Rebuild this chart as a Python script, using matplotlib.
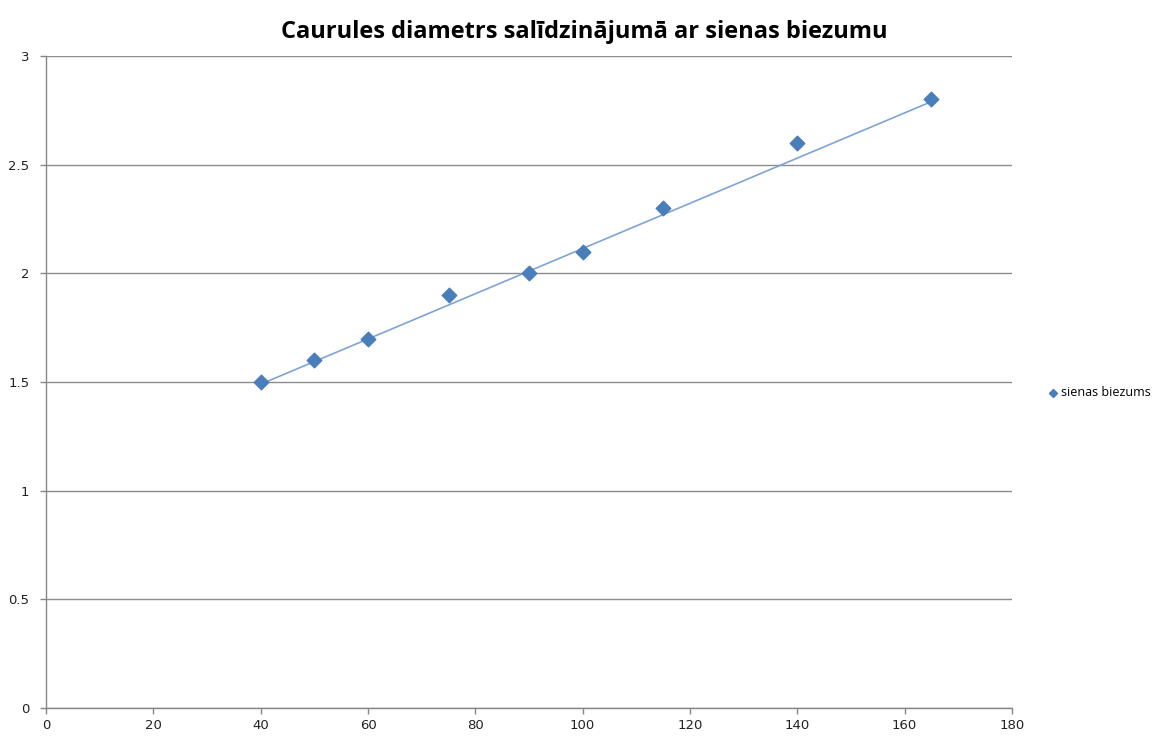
import numpy as np
import matplotlib
matplotlib.use("Agg")
import matplotlib.pyplot as plt

# --------------------- Data ------------------------
diametrs = [40, 50, 60, 75, 90, 100, 115, 140, 165]
biezums = [1.5, 1.6, 1.7, 1.9, 2.0, 2.1, 2.3, 2.6, 2.8]
# trendline ends
trend_x = [40, 165]
trend_y = [1.49, 2.79]

x_ticks = [0, 20, 40, 60, 80, 100, 120, 140, 160, 180]
y_ticks = [0, 0.5, 1, 1.5, 2, 2.5, 3]
y_labels = ["0", "0.5", "1", "1.5", "2", "2.5", "3"]

title = "Caurules diametrs salīdzinājumā ar sienas biezumu"
series_name = "sienas biezums"

# --------------------- Plot ------------------------
fig = plt.figure(figsize=(11.6, 7.36), dpi=100)
ax = fig.add_axes([0.0397, 0.038, 0.8327, 0.886])

ax.plot(trend_x, trend_y, color="#7EA3D4", linewidth=1.2, zorder=2)
ax.scatter(diametrs, biezums, marker="D", s=55, color="#4A7EBB",
           zorder=3, label=series_name)

ax.set_xlim(0, 180)
ax.set_ylim(0, 3)
ax.set_xticks(x_ticks)
ax.set_yticks(y_ticks)
ax.set_yticklabels(y_labels)
ax.tick_params(labelsize=9.5, colors="#868686", length=4, width=1,
               labelcolor="#222222")
ax.tick_params(axis="x", direction="out", pad=4)
ax.tick_params(axis="y", direction="out", pad=8)

ax.grid(axis="y", color="#8C8C8C", linewidth=1)
ax.set_axisbelow(True)
for s in ["top", "right"]:
    ax.spines[s].set_visible(False)
for s in ["left", "bottom"]:
    ax.spines[s].set_color("#868686")
    ax.spines[s].set_linewidth(1)

fig.text(0.504, 0.957, title, ha="center", va="center",
         fontsize=17, fontweight="bold", family="Open Sans")

ax.legend(loc="center left", bbox_to_anchor=(1.024, 0.484), frameon=False,
          prop={"family": "Open Sans", "size": 9},
          handletextpad=-0.3, markerscale=0.55, borderaxespad=0)

fig.savefig("out.png", dpi=100)
